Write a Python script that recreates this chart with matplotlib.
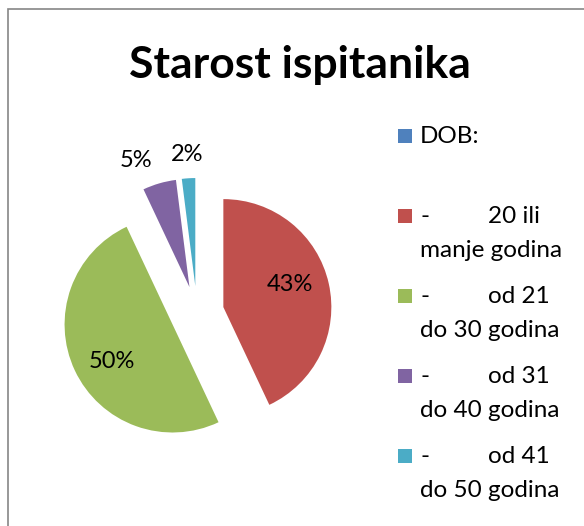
import matplotlib
matplotlib.use("Agg")
import matplotlib.pyplot as plt
from matplotlib.patches import Rectangle
import numpy as np

plt.rcParams['font.family'] = ['Lato', 'DejaVu Sans']

# data
title = "Starost ispitanika"
categories = ["DOB:",
              "-\t20 ili\nmanje godina",
              "-\tod 21\ndo 30 godina",
              "-\tod 31\ndo 40 godina",
              "-\tod 41\ndo 50 godina"]
shares = [0, 43, 50, 5, 2]
colors = ["#4F81BD", "#C0504D", "#9BBB59", "#8064A2", "#4BACC6"]

W, H = 584, 526

def Y(y):
    # pixel row (from top) -> data y
    return H - y

fig = plt.figure(figsize=(W / 100, H / 100), dpi=100)
ax = fig.add_axes([0, 0, 1, 1])

wedges, _ = ax.pie(shares, colors=colors, startangle=90, counterclock=False,
                   center=(197, Y(313)), radius=108, explode=[27] * len(shares),
                   wedgeprops=dict(linewidth=0))
ax.set_xlim(0, W)
ax.set_ylim(0, H)
ax.set_aspect('equal')
ax.axis('off')

# data labels: inside for big slices, outside for small ones
for w, v in zip(wedges, shares):
    if v <= 0:
        continue
    mid = (w.theta1 + w.theta2) / 2
    cx, cy = w.center
    if v >= 10:
        dist, mid = 0.655, mid + 6   # excel nudges inside labels a bit
    else:
        dist = 1.22
    mid = np.deg2rad(mid)
    tx = cx + dist * w.r * np.cos(mid)
    ty = cy + dist * w.r * np.sin(mid)
    ha = 'center'
    if v < 10 and np.cos(mid) < -0.2:
        ha = 'right'
    ax.text(tx, ty, f"{v}%", ha=ha, va='center', fontsize=17, color='black')

# title
ax.text(W / 2 + 8, Y(78), title, ha='center', va='baseline',
        fontsize=32, fontweight='bold', color='black')

# legend, drawn by hand to keep the tab-column layout
for i, (lab, col) in enumerate(zip(categories, colors)):
    base = 143 + 80 * i
    ax.add_patch(Rectangle((398, Y(base)), 14, 14, facecolor=col, edgecolor='none'))
    for j, line in enumerate(lab.split("\n")):
        parts = line.split("\t")
        yb = Y(base + 34 * j)
        ax.text(420, yb, parts[0], ha='left', va='baseline', fontsize=17.5)
        if len(parts) > 1:
            ax.text(488, yb, parts[1], ha='left', va='baseline', fontsize=17.5)

# chart frame (runs off the right and bottom edge)
ax.add_patch(Rectangle((8, Y(560)), 620, 551, fill=False,
                       edgecolor='#868686', linewidth=1.2, clip_on=False))

fig.savefig("out.png", dpi=100)
